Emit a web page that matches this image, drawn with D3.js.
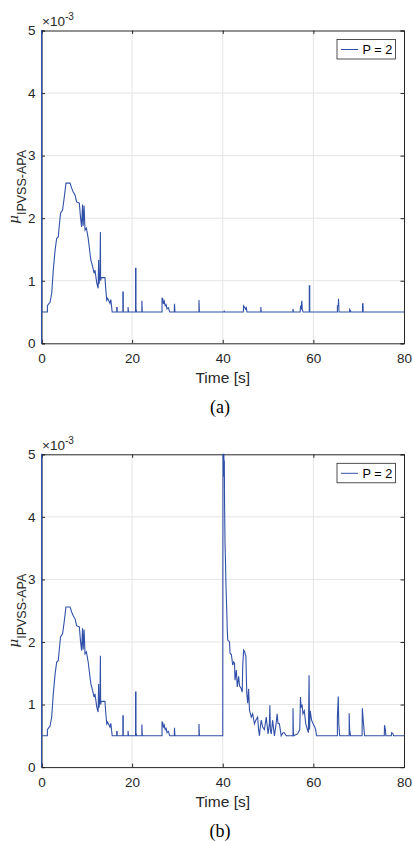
<!DOCTYPE html>
<html>
<head>
<meta charset="utf-8">
<script src="https://cdn.jsdelivr.net/npm/d3@7"></script>
<style>
  body { margin: 0; background: #fff; }
  svg text { font-family: Arial, "Liberation Sans", Helvetica, sans-serif; }
</style>
</head>
<body>
<div id="chart"></div>
<script>
// values in units of 1e-3, time in seconds

// shared first 40 s (same in both panels)
var firstTime = [0, 0, 0.05, 0.05, 1.3, 1.3, 1.9, 2.25, 2.6, 3.0, 3.35, 3.7, 3.9, 4.2, 4.65, 4.95, 5.4, 6.3, 6.65, 7.0, 7.4, 7.75, 8.35, 8.6, 8.85, 9.05, 9.2, 9.4, 9.6, 9.9, 10.3, 10.7, 10.9, 11.3, 11.6, 11.8, 12.2, 12.5, 12.6, 12.7, 12.9, 13.0, 13.05, 13.2, 14.0, 14.2, 14.4, 14.6, 15.1, 15.3, 15.6,
  16.6, 16.6, 16.7, 16.7, 17.95, 17.95, 18.05, 18.05, 19.1, 19.1, 19.2, 20.75, 20.75, 20.85, 20.85, 21.0, 22.15, 22.15, 22.25,
  26.6, 26.6, 26.8, 26.9, 27.1, 27.3, 27.5, 27.7, 28.0, 28.3, 29.3, 29.35, 29.45, 34.75, 34.75, 34.85, 40];
var firstValue = [0, 5, 5, 0.5, 0.5, 0.6, 0.66, 0.8, 1.17, 1.49, 1.68, 1.7, 1.86, 2.08, 2.13, 2.29, 2.56, 2.56, 2.48, 2.42, 2.37, 2.26, 2.24, 2.02, 1.86, 2.22, 1.88, 2.2, 1.81, 1.84, 1.68, 1.44, 1.33, 1.22, 1.12, 1.17, 0.96, 0.88, 1.33, 0.95, 1.1, 1.78, 1.0, 1.05, 1.05, 0.85, 0.69, 0.72, 0.64, 0.7, 0.5,
  0.5, 0.57, 0.57, 0.5, 0.5, 0.82, 0.82, 0.5, 0.5, 0.58, 0.5, 0.5, 1.2, 1.2, 0.55, 0.5, 0.5, 0.68, 0.5,
  0.5, 0.73, 0.7, 0.63, 0.67, 0.6, 0.62, 0.55, 0.57, 0.5, 0.5, 0.63, 0.5, 0.5, 0.69, 0.5, 0.5];

// panel (a) after 40 s
var restTimeA = [40.3, 40.3, 40.4, 44.55, 44.6, 44.8, 45.0, 45.2, 45.35, 48.4, 48.4, 48.5, 55.5, 55.5, 55.6, 57.1, 57.15, 57.3, 57.45, 57.55, 57.7,
  59.1, 59.1, 59.2, 59.2, 65.3, 65.3, 65.5, 65.55, 65.65, 68.0, 68.0, 68.2, 68.3, 70.85, 70.85, 70.95, 71.0, 80];
var restValueA = [0.5, 0.52, 0.5, 0.5, 0.6, 0.58, 0.55, 0.57, 0.5, 0.5, 0.58, 0.5, 0.5, 0.55, 0.5, 0.5, 0.58, 0.56, 0.68, 0.55, 0.5,
  0.5, 0.92, 0.92, 0.5, 0.5, 0.6, 0.6, 0.71, 0.5, 0.5, 0.54, 0.52, 0.5, 0.5, 0.63, 0.63, 0.5, 0.5];

// panel (b) after 40 s
var restTimeB = [40.05, 40.25, 40.3, 40.35, 40.4, 40.5, 40.6, 40.7, 40.9, 41.0, 41.1, 41.5, 41.6, 41.9, 42.2, 42.4, 42.6, 42.7, 43.0, 43.2, 43.5, 43.7, 44.05, 44.3, 44.4, 44.6, 44.8, 45.1, 45.3, 45.5, 45.7, 45.9,
  46.3, 46.6, 47.0, 47.3, 47.7, 47.9, 48.1, 48.3, 48.5, 48.8, 49.2, 49.6, 50.0, 50.3, 50.4, 50.5, 50.7, 51.0, 51.4, 51.7, 52.0, 52.2, 52.5, 52.9, 53.3, 53.6, 54.0,
  55.5, 55.5, 55.6, 56.5, 57.0, 57.15, 57.3, 57.5, 57.7, 58.0, 58.3, 58.6, 58.9, 59.05, 59.15, 59.3, 59.6, 59.9, 60.3, 60.5, 60.7,
  65.3, 65.3, 65.5, 65.6, 65.8, 67.9, 67.9, 68.0, 68.2, 70.75, 70.8, 71.0, 71.3, 75.65, 75.7, 75.9, 76.0, 77.2, 77.3, 77.6, 77.7, 80];
var restValueB = [5.0, 5.0, 4.64, 4.9, 4.2, 3.58, 3.3, 2.94, 2.46, 2.2, 2.03, 2.0, 1.82, 1.8, 1.63, 1.68, 1.66, 1.39, 1.55, 1.28, 1.45, 1.3, 1.26, 1.2, 1.6, 1.87, 1.85, 1.77, 1.18, 1.02, 1.25, 0.91,
  0.8, 0.85, 0.69, 0.75, 0.8, 0.6, 0.5, 0.65, 0.75, 0.64, 0.6, 0.8, 0.53, 0.7, 0.99, 0.6, 0.53, 0.75, 0.5, 0.65, 0.85, 0.7, 0.69, 0.5, 0.55, 0.55, 0.5,
  0.5, 0.94, 0.5, 0.53, 0.6, 1.12, 0.95, 1.0, 0.85, 0.9, 0.7, 0.62, 0.55, 1.47, 0.6, 0.9, 0.75, 0.7, 0.64, 0.6, 0.5,
  0.5, 0.8, 1.13, 0.7, 0.5, 0.5, 0.86, 0.6, 0.5, 0.5, 0.94, 0.75, 0.5, 0.5, 0.67, 0.6, 0.5, 0.5, 0.55, 0.53, 0.5, 0.5];

var xTicks = [0, 20, 40, 60, 80];
var yTicks = [0, 1, 2, 3, 4, 5];
var legendLabel = "P = 2";
var panelLabels = ["(a)", "(b)"];

function zipSeries(ts, vs) {
  return ts.map(function (t, i) { return { t: t, v: vs[i] }; });
}
var seriesA = zipSeries(firstTime.concat(restTimeA), firstValue.concat(restValueA));
var seriesB = zipSeries(firstTime.concat(restTimeB), firstValue.concat(restValueB));

var axisColor = "#262626";
var gridColor = "#e5e5e5";
var lineColor = "#3150a8";
var sansFont = "Arial, 'Liberation Sans', Helvetica, sans-serif";

var svg = d3.select("#chart")
  .append("svg")
  .attr("width", 412)
  .attr("height", 841)
  .attr("font-family", sansFont);

var margin = { left: 41.5, right: 8 },
    width = 412 - margin.left - margin.right,
    height = 312.8;

var x = d3.scaleLinear().domain([0, 80]).range([0, width]);
var y = d3.scaleLinear().domain([0, 5]).range([height, 0]);

function styleAxis(sel) {
  sel.attr("font-family", sansFont);
  sel.select(".domain").attr("stroke", axisColor).attr("stroke-width", 1);
  sel.selectAll(".tick line").attr("stroke", axisColor);
  sel.selectAll(".tick text")
    .attr("fill", axisColor)
    .style("font-size", "13.5px");
}

function drawPanel(data, top, label, idx) {
  var g = svg.append("g")
    .attr("transform", "translate(" + margin.left + "," + top + ")");

  // grid
  g.selectAll(".gx").data(xTicks.slice(1, -1)).enter().append("line")
    .attr("x1", function (d) { return x(d); }).attr("x2", function (d) { return x(d); })
    .attr("y1", 0).attr("y2", height)
    .attr("stroke", gridColor).attr("stroke-width", 1);
  g.selectAll(".gy").data(yTicks.slice(1, -1)).enter().append("line")
    .attr("y1", function (d) { return y(d); }).attr("y2", function (d) { return y(d); })
    .attr("x1", 0).attr("x2", width)
    .attr("stroke", gridColor).attr("stroke-width", 1);

  // axes (ticks inside, box on)
  var tickLen = 3.5;
  g.append("g")
    .attr("transform", "translate(0," + height + ")")
    .call(d3.axisBottom(x).tickValues(xTicks).tickSize(-tickLen).tickPadding(10.5))
    .call(styleAxis);
  g.append("g")
    .call(d3.axisTop(x).tickValues(xTicks).tickSize(-tickLen).tickFormat(""))
    .call(styleAxis);
  g.append("g")
    .call(d3.axisLeft(y).tickValues(yTicks).tickFormat(d3.format("d")).tickSize(-tickLen).tickPadding(6))
    .call(styleAxis);
  g.append("g")
    .attr("transform", "translate(" + width + ",0)")
    .call(d3.axisRight(y).tickValues(yTicks).tickSize(-tickLen).tickFormat(""))
    .call(styleAxis);

  // data line
  g.append("clipPath").attr("id", "clip" + idx)
    .append("rect").attr("x", -1).attr("y", -1).attr("width", width + 1).attr("height", height + 1);
  g.append("path")
    .datum(data)
    .attr("clip-path", "url(#clip" + idx + ")")
    .attr("fill", "none")
    .attr("stroke", lineColor)
    .attr("stroke-width", 1.1)
    .attr("d", d3.line()
      .x(function (d) { return x(d.t); })
      .y(function (d) { return y(d.v); }));

  // exponent
  var ex = g.append("text")
    .attr("x", 0.5).attr("y", -4.5)
    .attr("fill", axisColor)
    .style("font-size", "13.5px");
  ex.append("tspan").text("\u00d710");
  ex.append("tspan").attr("dy", -6).style("font-size", "10px").text("-3");

  // y label
  var yl = g.append("text")
    .attr("transform", "translate(" + (-24) + "," + (height / 2) + ") rotate(-90)")
    .attr("text-anchor", "middle")
    .attr("fill", axisColor)
    .style("font-size", "13.5px");
  yl.append("tspan").style("font-style", "italic").style("font-family", "'DejaVu Serif', serif").text("\u03bc");
  yl.append("tspan").attr("dy", 8.5).style("font-size", "12.5px").text("IPVSS-APA");

  // x label
  g.append("text")
    .attr("x", width / 2).attr("y", height + 40)
    .attr("text-anchor", "middle")
    .attr("fill", axisColor)
    .style("font-size", "15.5px")
    .text("Time [s]");

  // legend
  var lg = g.append("g").attr("transform", "translate(" + (width - 67) + ",9)");
  lg.append("rect")
    .attr("width", 58.5).attr("height", 19.5)
    .attr("fill", "#fff").attr("stroke", axisColor).attr("stroke-width", 0.8);
  lg.append("line")
    .attr("x1", 4).attr("x2", 21).attr("y1", 10).attr("y2", 10)
    .attr("stroke", lineColor).attr("stroke-width", 1);
  lg.append("text")
    .attr("x", 25.5).attr("y", 14.5)
    .attr("fill", "#000")
    .style("font-size", "12.7px")
    .text(legendLabel);

  // panel caption
  svg.append("text")
    .attr("x", 220).attr("y", top + height + 70)
    .attr("text-anchor", "middle")
    .attr("fill", "#000")
    .style("font-family", "'Liberation Serif', 'Times New Roman', Times, serif")
    .style("font-size", "18px")
    .text(label);
}

drawPanel(seriesA, 30.5, panelLabels[0], 0);
drawPanel(seriesB, 454.3, panelLabels[1], 1);
</script>
</body>
</html>
